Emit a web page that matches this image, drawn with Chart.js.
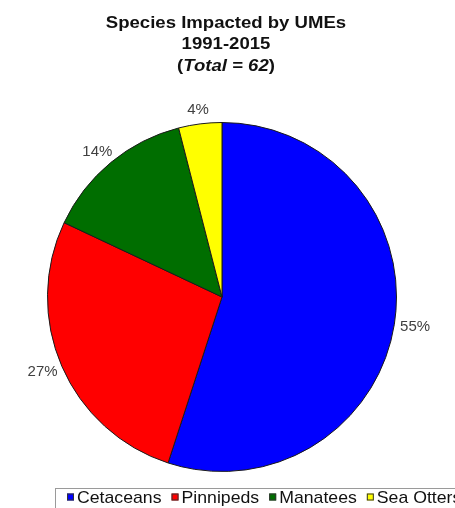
<!DOCTYPE html>
<html>
<head>
<meta charset="utf-8">
<script src="https://cdn.jsdelivr.net/npm/chart.js@4/dist/chart.umd.min.js"></script>
<style>
html,body{margin:0;padding:0;background:#fff;}
canvas{display:block;}
</style>
</head>
<body>
<canvas id="c" width="455" height="508"></canvas>
<script>
const categories = ["Cetaceans", "Pinnipeds", "Manatees", "Sea Otters"];
const values = [55, 27, 14, 4];
const pctLabels = ["55%", "27%", "14%", "4%"];
const colors = ["#0000FF", "#FF0000", "#006E00", "#FFFF00"];
const titleLines = ["Species Impacted by UMEs", "1991-2015"];
const totalCount = 62;

const FONT = "'Liberation Sans', Arial, sans-serif";

function stretchedText(ctx, text, x, y, sx, align) {
  const w = ctx.measureText(text).width * sx;
  let left = x;
  if (align === 'center') left = x - w / 2;
  else if (align === 'right') left = x - w;
  ctx.save();
  ctx.translate(left, y);
  ctx.scale(sx, 1);
  ctx.textAlign = 'left';
  ctx.fillText(text, 0, 0);
  ctx.restore();
  return w;
}

const overlay = {
  id: 'overlay',
  afterDraw(chart) {
    const ctx = chart.ctx;
    ctx.save();
    // Title
    ctx.fillStyle = '#111';
    ctx.textBaseline = 'alphabetic';
    const tsx = 1.16;
    const cx = 226;
    ctx.font = "bold 16px " + FONT;
    stretchedText(ctx, titleLines[0], cx, 28, tsx, 'center');
    stretchedText(ctx, titleLines[1], cx, 49, tsx, 'center');
    const parts = [
      {t: "(", f: "bold 16px " + FONT},
      {t: "Total = " + totalCount, f: "italic bold 16px " + FONT},
      {t: ")", f: "bold 16px " + FONT}
    ];
    let tw = 0;
    parts.forEach(p => { ctx.font = p.f; p.w = ctx.measureText(p.t).width * tsx; tw += p.w; });
    let x = cx - tw / 2;
    parts.forEach(p => { ctx.font = p.f; stretchedText(ctx, p.t, x, 71, tsx, 'left'); x += p.w; });

    // Percent labels (outside end)
    const meta = chart.getDatasetMeta(0);
    ctx.font = "15px " + FONT;
    ctx.fillStyle = '#404040';
    ctx.textBaseline = 'middle';
    meta.data.forEach((arc, i) => {
      const p = arc.getProps(['x', 'y', 'startAngle', 'endAngle', 'outerRadius'], true);
      const mid = (p.startAngle + p.endAngle) / 2;
      const half = ctx.measureText(pctLabels[i]).width / 2;
      const c = Math.cos(mid), s = Math.sin(mid);
      const lx = p.x + c * (p.outerRadius + 6) + c * half;
      const ly = p.y + s * (p.outerRadius + 14);
      stretchedText(ctx, pctLabels[i], lx, ly, 1.0, 'center');
    });

    // Legend
    const boxLeft = 55, boxTop = 488;
    ctx.strokeStyle = '#9a9a9a';
    ctx.lineWidth = 1;
    ctx.strokeRect(boxLeft + 0.5, boxTop + 0.5, 500, 40);
    ctx.font = "17px " + FONT;
    ctx.textBaseline = 'middle';
    const lsx = 1.04;
    let lx = boxLeft + 12;
    const ly = boxTop + 9;
    categories.forEach((c, i) => {
      ctx.fillStyle = colors[i];
      ctx.fillRect(lx, ly - 3.5, 7, 7);
      ctx.strokeStyle = '#333';
      ctx.strokeRect(lx + 0.5, ly - 3, 6, 6);
      lx += 10;
      ctx.fillStyle = '#111';
      const w = stretchedText(ctx, c, lx, ly + 1, lsx, 'left');
      lx += w + 10;
    });
    ctx.restore();
  }
};

new Chart(document.getElementById('c'), {
  type: 'pie',
  data: {
    labels: categories,
    datasets: [{
      data: values,
      backgroundColor: colors,
      borderColor: '#1a1a1a',
      borderWidth: 1
    }]
  },
  options: {
    responsive: false,
    animation: false,
    layout: { padding: { left: 47, right: 58, top: 122, bottom: 36 } },
    plugins: {
      legend: { display: false },
      title: { display: false },
      tooltip: { enabled: false }
    }
  },
  plugins: [overlay]
});
</script>
</body>
</html>
